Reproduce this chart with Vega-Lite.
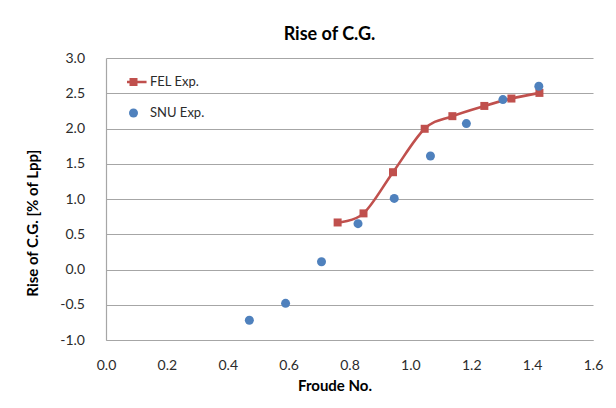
{
  "$schema": "https://vega.github.io/schema/vega-lite/v6.json",
  "width": 487,
  "height": 282,
  "autosize": "none",
  "padding": {"left": 106, "top": 58, "right": 23, "bottom": 68},
  "background": "white",
  "title": {
    "text": "Rise of C.G.",
    "font": "Lato",
    "fontSize": 18,
    "fontWeight": "bold",
    "color": "#000000",
    "anchor": "middle",
    "dx": -20,
    "dy": 26,
    "baseline": "alphabetic",
    "offset": 19
  },
  "data": {
    "values": [
      {"series": "FEL Exp.", "fn": 0.761, "rise": 0.667},
      {"series": "FEL Exp.", "fn": 0.846, "rise": 0.796},
      {"series": "FEL Exp.", "fn": 0.943, "rise": 1.38},
      {"series": "FEL Exp.", "fn": 1.047, "rise": 1.996},
      {"series": "FEL Exp.", "fn": 1.138, "rise": 2.175},
      {"series": "FEL Exp.", "fn": 1.243, "rise": 2.32},
      {"series": "FEL Exp.", "fn": 1.332, "rise": 2.425},
      {"series": "FEL Exp.", "fn": 1.424, "rise": 2.505},
      {"series": "SNU Exp.", "fn": 0.471, "rise": -0.72},
      {"series": "SNU Exp.", "fn": 0.59, "rise": -0.48},
      {"series": "SNU Exp.", "fn": 0.708, "rise": 0.11},
      {"series": "SNU Exp.", "fn": 0.828, "rise": 0.65},
      {"series": "SNU Exp.", "fn": 0.947, "rise": 1.008},
      {"series": "SNU Exp.", "fn": 1.066, "rise": 1.61},
      {"series": "SNU Exp.", "fn": 1.184, "rise": 2.07},
      {"series": "SNU Exp.", "fn": 1.304, "rise": 2.41},
      {"series": "SNU Exp.", "fn": 1.422, "rise": 2.6}
    ]
  },
  "config": {
    "view": {"stroke": null},
    "axis": {
      "labelFont": "Lato",
      "labelFontSize": 14,
      "labelColor": "#2b2b2b",
      "titleFont": "Lato",
      "titleFontSize": 15,
      "titleFontWeight": "bold",
      "titleColor": "#000000",
      "ticks": false,
      "tickSize": 0,
      "domainColor": "#A6A6A6",
      "domainWidth": 1.2,
      "gridColor": "#A6A6A6",
      "gridWidth": 1.2
    }
  },
  "encoding": {
    "x": {
      "field": "fn",
      "type": "quantitative",
      "scale": {"domain": [0, 1.6], "nice": false, "zero": false},
      "axis": {
        "values": [0, 0.2, 0.4, 0.6, 0.8, 1.0, 1.2, 1.4, 1.6],
        "format": ".1f",
        "grid": false,
        "labelPadding": 18,
        "labelFlush": false,
        "title": "Froude No.",
        "titleX": 228.5,
        "titleY": 50,
        "titleAlign": "center",
        "titleBaseline": "alphabetic"
      }
    },
    "y": {
      "field": "rise",
      "type": "quantitative",
      "scale": {"domain": [-1, 3], "nice": false, "zero": false},
      "axis": {
        "values": [-1, -0.5, 0, 0.5, 1, 1.5, 2, 2.5, 3],
        "labelExpr": "(datum.value < 0 ? '-' : '') + format(abs(datum.value), '.1f')",
        "grid": true,
        "labelPadding": 21.5,
        "labelFlush": false,
        "title": "Rise of C.G. [% of Lpp]",
        "titleX": -68.7,
        "titleY": 164.7,
        "titleAngle": -90,
        "titleAlign": "center",
        "titleBaseline": "alphabetic"
      }
    }
  },
  "layer": [
    {
      "transform": [{"filter": "datum.series === 'FEL Exp.'"}],
      "mark": {"type": "line", "interpolate": "cardinal", "color": "#C0504D", "strokeWidth": 2.6}
    },
    {
      "transform": [{"filter": "datum.series === 'FEL Exp.'"}],
      "mark": {"type": "point", "shape": "square", "filled": true, "color": "#C0504D", "size": 64, "opacity": 1}
    },
    {
      "transform": [{"filter": "datum.series === 'SNU Exp.'"}],
      "mark": {"type": "point", "shape": "circle", "filled": true, "color": "#4F81BD", "size": 81, "opacity": 1}
    },
    {
      "transform": [{"filter": "datum.fn < 0"}],
      "mark": {"type": "point", "filled": true, "opacity": 1},
      "encoding": {
        "color": {
          "field": "series",
          "type": "nominal",
          "scale": {"domain": ["FEL Exp.", "SNU Exp."], "range": ["#C0504D", "#4F81BD"]},
          "legend": {
            "title": null,
            "orient": "none",
            "legendX": 21,
            "legendY": 16,
            "padding": 0,
            "symbolSize": 81,
            "symbolOpacity": 1,
            "symbolStrokeWidth": 0,
            "labelFont": "Lato",
            "labelFontSize": 13,
            "labelColor": "#2b2b2b",
            "labelOffset": 10,
            "rowPadding": 15,
            "clipHeight": 16
          }
        },
        "shape": {
          "field": "series",
          "type": "nominal",
          "scale": {
            "domain": ["FEL Exp.", "SNU Exp."],
            "range": ["M-2.9,-0.29H2.9V0.29H-2.9Z M-0.89,-0.89H0.89V0.89H-0.89Z", "circle"]
          }
        }
      }
    }
  ]
}
